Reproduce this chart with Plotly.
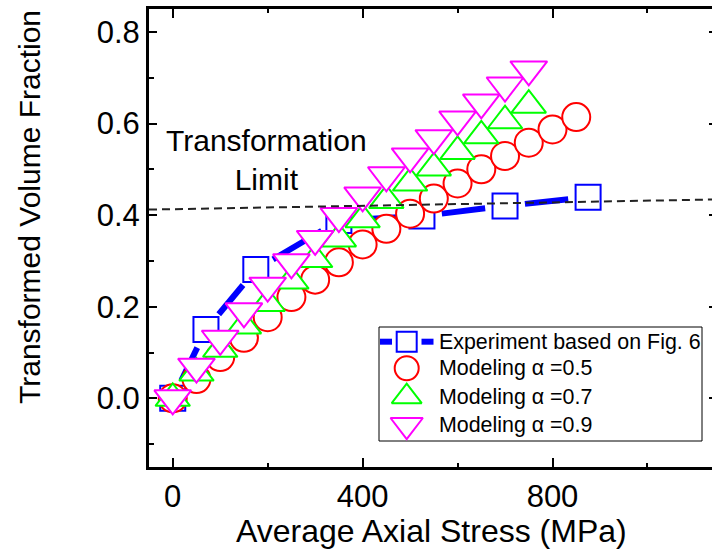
import math
import plotly.graph_objects as go

# ---------------- data ----------------
exp_x = [0, 70, 175, 350, 525, 700, 875]
exp_y = [0.0, 0.150, 0.281, 0.388, 0.398, 0.420, 0.439]

model_x = [0, 50, 100, 150, 200, 250, 300, 350, 400, 450, 500, 550, 600, 650, 700, 750, 800, 850]
a05_y = [0.0, 0.042, 0.090, 0.132, 0.177, 0.221, 0.259, 0.297, 0.336, 0.370, 0.403,
         0.436, 0.469, 0.500, 0.529, 0.558, 0.587, 0.614]
a07_y = [0.0, 0.055, 0.107, 0.158, 0.207, 0.256, 0.303, 0.348, 0.390, 0.432, 0.470,
         0.503, 0.539, 0.573, 0.606, 0.640]
a09_y = [0.0, 0.069, 0.130, 0.190, 0.246, 0.297, 0.348, 0.398, 0.443, 0.487, 0.528,
         0.568, 0.609, 0.646, 0.683, 0.718]

limit_x = [-50, 1136]
limit_y = [0.412, 0.434]

names = ["Experiment based on Fig. 6", "Modeling \u03b1 =0.5",
         "Modeling \u03b1 =0.7", "Modeling \u03b1 =0.9"]

x_ticks = [0, 400, 800]
x_minor = [200, 600, 1000]
y_ticks = [0.0, 0.2, 0.4, 0.6, 0.8]
y_minor = [-0.1, 0.1, 0.3, 0.5, 0.7]

x_title = "Average Axial Stress (MPa)"
y_title = "Transformed Volume Fraction"
note_text = "Transformation<br>Limit"

# ---------------- layout constants ----------------
W, H = 712, 553
ML, MR, MT, MB = 149, 0, 9, 86
XR = [-50, 1136]
YR = [-0.15, 0.85]
FONT = "Arial, Liberation Sans, sans-serif"

plot_w = W - ML - MR
plot_h = H - MT - MB
plot_bottom = H - MB
sx = plot_w / (XR[1] - XR[0])
sy = plot_h / (YR[1] - YR[0])


def px_to_paper_x(px):
    return (px - ML) / plot_w


def px_to_paper_y(py):
    return (plot_bottom - py) / plot_h


BLUE, RED, GREEN, MAG = "#0000ff", "#ff0000", "#00ff00", "#ff00ff"
FILL = "white"

# experiment connecting line with gaps around the symbols (gap in pixels)
GAP = 20
seg_x, seg_y = [], []
for i in range(len(exp_x) - 1):
    x0, y0, x1, y1 = exp_x[i], exp_y[i], exp_x[i + 1], exp_y[i + 1]
    L = math.hypot((x1 - x0) * sx, (y1 - y0) * sy)
    if L > 2 * GAP:
        t0, t1 = GAP / L, 1 - GAP / L
        seg_x += [x0 + t0 * (x1 - x0), x0 + t1 * (x1 - x0), None]
        seg_y += [y0 + t0 * (y1 - y0), y0 + t1 * (y1 - y0), None]

fig = go.Figure()

fig.add_trace(go.Scatter(
    x=seg_x, y=seg_y, mode="lines", showlegend=False,
    line=dict(color=BLUE, width=6), hoverinfo="skip",
))
fig.add_trace(go.Scatter(
    x=exp_x, y=exp_y, mode="markers", name=names[0], showlegend=False,
    marker=dict(symbol="square", size=25, color=FILL, line=dict(width=2, color=BLUE)),
))
fig.add_trace(go.Scatter(
    x=model_x[:len(a05_y)], y=a05_y, mode="markers", name=names[1], showlegend=False,
    marker=dict(symbol="circle", size=28, color=FILL, line=dict(width=2, color=RED)),
))
fig.add_trace(go.Scatter(
    x=model_x[:len(a07_y)], y=a07_y, mode="markers", name=names[2], showlegend=False,
    marker=dict(symbol="triangle-up", size=30, color=FILL, line=dict(width=2, color=GREEN)),
))
fig.add_trace(go.Scatter(
    x=model_x[:len(a09_y)], y=a09_y, mode="markers", name=names[3], showlegend=False,
    marker=dict(symbol="triangle-down", size=32, color=FILL, line=dict(width=2, color=MAG)),
))
fig.add_trace(go.Scatter(
    x=limit_x, y=limit_y, mode="lines", showlegend=False,
    line=dict(color="#222222", width=2, dash="8px,5px"), hoverinfo="skip",
))

# ---------------- custom legend (pixel helper axes x3/y3) ----------------
LB = dict(x0=379, x1=702, y0=327, y1=441)
row_y = [341.7, 368.3, 396.7, 425.0]
sym_x = 406.7
txt_x = 436.7
fig.add_shape(type="rect", xref="x3", yref="y3", x0=LB["x0"], x1=LB["x1"], y0=LB["y0"], y1=LB["y1"],
              line=dict(color="black", width=1), fillcolor="white", layer="below")
fig.add_trace(go.Scatter(
    x=[380, 392, None, 421.5, 433.5], y=[row_y[0], row_y[0], None, row_y[0], row_y[0]],
    xaxis="x3", yaxis="y3", mode="lines", showlegend=False, hoverinfo="skip",
    line=dict(color=BLUE, width=6),
))
leg_syms = [("square", 20, BLUE), ("circle", 24, RED),
            ("triangle-up", 26, GREEN), ("triangle-down", 28, MAG)]
for (sym, sz, col), yy in zip(leg_syms, row_y):
    fig.add_trace(go.Scatter(
        x=[sym_x], y=[yy], xaxis="x3", yaxis="y3", mode="markers", showlegend=False,
        hoverinfo="skip", marker=dict(symbol=sym, size=sz, color=FILL, line=dict(width=2, color=col)),
    ))
for name, yy in zip(names, row_y):
    fig.add_annotation(x=txt_x, y=yy, xref="x3", yref="y3", text=name, showarrow=False,
                       xanchor="left", yanchor="middle",
                       font=dict(family=FONT, size=21.4, color="black"))

# ---------------- annotations ----------------
fig.add_annotation(
    x=198, y=0.52, xref="x", yref="y", text=note_text,
    showarrow=False, font=dict(family=FONT, size=30, color="#000000"),
)
fig.add_annotation(x=px_to_paper_x(432), y=px_to_paper_y(531), xref="paper", yref="paper",
                   text=x_title, showarrow=False, xanchor="center", yanchor="middle",
                   font=dict(family=FONT, size=32, color="black"))
fig.add_annotation(x=px_to_paper_x(29), y=px_to_paper_y(207), xref="paper", yref="paper",
                   text=y_title, showarrow=False, textangle=-90,
                   xanchor="center", yanchor="middle",
                   font=dict(family=FONT, size=30, color="black"))

axis_common = dict(showgrid=False, zeroline=False)

fig.update_layout(
    width=W, height=H,
    margin=dict(l=ML, r=MR, t=MT, b=MB, pad=0),
    paper_bgcolor="white", plot_bgcolor="white",
    font=dict(family=FONT, color="#000000"),
    showlegend=False,
    xaxis=dict(
        range=XR, tickvals=x_ticks, ticktext=[str(v) for v in x_ticks],
        ticks="inside", ticklen=9, tickwidth=2, tickcolor="black",
        minor=dict(tickvals=x_minor, ticks="inside", ticklen=4, tickwidth=2, tickcolor="black"),
        showline=True, linewidth=3, linecolor="black", mirror=True,
        tickfont=dict(family=FONT, size=31),
        **axis_common,
    ),
    yaxis=dict(
        range=YR, tickvals=y_ticks, ticktext=["%.1f" % v for v in y_ticks],
        ticks="inside", ticklen=8, tickwidth=2, tickcolor="black",
        minor=dict(tickvals=y_minor, ticks="inside", ticklen=5, tickwidth=2, tickcolor="black"),
        showline=True, linewidth=3, linecolor="black", mirror=False,
        tickfont=dict(family=FONT, size=31),
        **axis_common,
    ),
    xaxis2=dict(
        overlaying="x", side="top", range=XR, tickvals=x_ticks, showticklabels=False,
        ticks="inside", ticklen=9, tickwidth=2, tickcolor="black",
        minor=dict(tickvals=x_minor, ticks="inside", ticklen=4, tickwidth=2, tickcolor="black"),
        showline=False, **axis_common,
    ),
    yaxis2=dict(
        overlaying="y", side="right", range=YR, tickvals=y_ticks, showticklabels=False,
        ticks="inside", ticklen=3, tickwidth=2, tickcolor="black",
        showline=False, **axis_common,
    ),
    xaxis3=dict(overlaying="x", range=[ML, W - MR], visible=False, **axis_common),
    yaxis3=dict(overlaying="y", range=[H - MB, MT], visible=False, **axis_common),
)

fig.add_trace(go.Scatter(x=[None], y=[None], xaxis="x2", yaxis="y2", showlegend=False, hoverinfo="skip"))

fig.write_html("out.html")
